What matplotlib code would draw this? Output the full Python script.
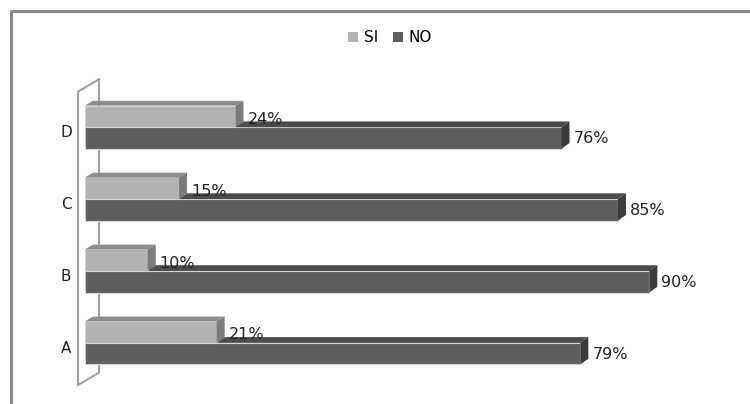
import matplotlib
matplotlib.use("Agg")
import matplotlib.pyplot as plt
from matplotlib.patches import Polygon, Patch
from matplotlib.lines import Line2D

categories = ["A", "B", "C", "D"]
si_values = [21, 10, 15, 24]
no_values = [79, 90, 85, 76]
series_names = ["SI", "NO"]

# face colours: front, top, side
si_colors = ("#b2b2b2", "#8e8e8e", "#7c7c7c")
no_colors = ("#5e5e5e", "#4c4c4c", "#3c3c3c")

W, H, DPI = 750, 404, 100
plt.rcParams["font.family"] = ["DejaVu Sans"]

fig = plt.figure(figsize=(W / DPI, H / DPI), dpi=DPI)
ax_l, ax_r = 85, 712      # pixels
ax_t, ax_b = 84, 386
ax = fig.add_axes([ax_l / W, 1 - ax_b / H, (ax_r - ax_l) / W, (ax_b - ax_t) / H])
xmax = 100
ax.set_xlim(0, xmax)
ax.set_ylim(-0.6, len(categories) - 0.4)
ax.axis("off")

px_x = (ax_r - ax_l) / xmax               # pixels per x unit
px_y = (ax_b - ax_t) / (len(categories))  # pixels per y unit
ddx = 8 / px_x                            # 3d depth in data units
bh = 0.3


def bar3d(y, v, cols, z, depth_px):
    front, top, side = cols
    ddy = depth_px / px_y
    ax.add_patch(Polygon([(0, y), (v, y), (v, y + bh), (0, y + bh)],
                         closed=True, facecolor=front, edgecolor="#d4d4d4",
                         lw=0.8, zorder=z))
    ax.add_patch(Polygon([(0, y + bh), (v, y + bh), (v + ddx, y + bh + ddy),
                          (ddx, y + bh + ddy)], closed=True, facecolor=top,
                         edgecolor="none", zorder=z))
    ax.add_patch(Polygon([(v, y), (v + ddx, y + ddy), (v + ddx, y + bh + ddy),
                          (v, y + bh)], closed=True, facecolor=side,
                         edgecolor="none", zorder=z))


# back wall of the 3d plot
y0, y1 = ax.get_ylim()
wall = [(-7 / px_x, y0 + 1 / px_y), (-7 / px_x, y1 - 8 / px_y),
        (14 / px_x, y1 + 5 / px_y), (14 / px_x, y0 + 14 / px_y)]
ax.add_patch(Polygon(wall, closed=True, facecolor="white", edgecolor="#a0a0a0",
                     lw=1.5, zorder=1, clip_on=False))

for i, cat in enumerate(categories):
    z = 10 - i
    bar3d(i - bh, no_values[i], no_colors, z * 2, 6)
    bar3d(i, si_values[i], si_colors, z * 2 + 1, 5)
    ax.text(no_values[i] + 12 / px_x, i - bh / 2 - 0.01, f"{no_values[i]}%",
            va="center", ha="left", fontsize=11.5, color="#222222", zorder=50)
    ax.text(si_values[i] + 12 / px_x, i + bh / 2 - 0.04, f"{si_values[i]}%",
            va="center", ha="left", fontsize=11.5, color="#222222", zorder=50)
    ax.text(-19 / px_x, i - 0.08, cat, va="center", ha="center",
            fontsize=11, color="#222222")

# outer chart frame
fl = Line2D([11 / W, 11 / W, 1], [0, 1 - 11 / H, 1 - 11 / H],
            transform=fig.transFigure, color="#8c8c8c", lw=2.2)
fig.add_artist(fl)

handles = [Patch(facecolor=si_colors[0]), Patch(facecolor=no_colors[0])]
fig.legend(handles, series_names, loc="center", bbox_to_anchor=(390 / W, 1 - 38 / H),
           ncol=2, frameon=False, fontsize=11, handlelength=0.65, handleheight=0.65,
           handletextpad=0.35, columnspacing=1.0)

fig.savefig("out.png", dpi=DPI)
